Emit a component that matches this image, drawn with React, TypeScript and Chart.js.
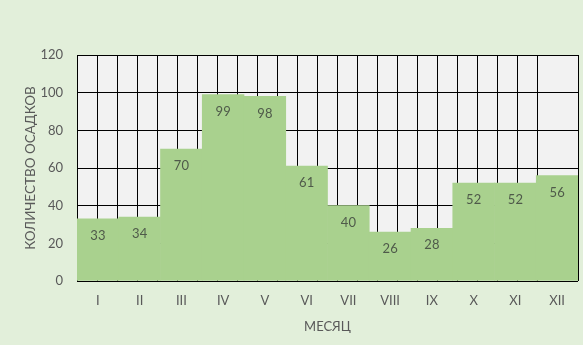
import React, { useEffect, useRef } from "react";
import { Chart, registerables } from "chart.js";

Chart.register(...registerables);

const months = ["I", "II", "III", "IV", "V", "VI", "VII", "VIII", "IX", "X", "XI", "XII"];
const precipitation = [33, 34, 70, 99, 98, 61, 40, 26, 28, 52, 52, 56];
const yTitle = "КОЛИЧЕСТВО ОСАДКОВ";
const xTitle = "МЕСЯЦ";

const FONT = "Lato, 'Open Sans', sans-serif";
const TEXT = "#595959";

const bgPlugin = {
  id: "bgPlugin",
  beforeDraw(chart: any) {
    const { ctx, chartArea, width, height } = chart;
    ctx.save();
    ctx.fillStyle = "#E2EFDA";
    ctx.fillRect(0, 0, width, height);
    ctx.fillStyle = "#F2F2F2";
    ctx.fillRect(chartArea.left, chartArea.top, chartArea.right - chartArea.left, chartArea.bottom - chartArea.top);
    ctx.restore();
  },
};

const labelPlugin = {
  id: "labelPlugin",
  afterDatasetsDraw(chart: any) {
    const { ctx } = chart;
    const meta = chart.getDatasetMeta(0);
    const data = chart.data.datasets[0].data;
    ctx.save();
    ctx.font = `13px ${FONT}`;
    ctx.fillStyle = "#4F5A4A";
    ctx.textAlign = "center";
    ctx.textBaseline = "middle";
    meta.data.forEach((el: any, i: number) => {
      ctx.fillText(String(data[i]), el.x, el.y + 17);
    });
    ctx.restore();
  },
};

export default function App() {
  const ref = useRef<HTMLCanvasElement>(null);
  useEffect(() => {
    document.body.style.margin = "0";
    const chart = new Chart(ref.current!, {
      type: "bar",
      data: {
        labels: months,
        datasets: [
          {
            data: precipitation,
            backgroundColor: "#A9D18E",
            borderWidth: 0,
            categoryPercentage: 1,
            barPercentage: 1,
            xAxisID: "x",
          },
        ],
      },
      options: {
        animation: false,
        responsive: false,
        maintainAspectRatio: false,
        layout: { padding: { top: 55, right: 5, left: 0, bottom: 0 } },
        plugins: { legend: { display: false }, tooltip: { enabled: false } },
        scales: {
          x: {
            position: "bottom",
            grid: { display: false, drawTicks: false },
            border: { display: false },
            ticks: { color: TEXT, font: { family: FONT, size: 13 }, padding: 12 },
            title: {
              display: true,
              text: xTitle,
              color: TEXT,
              font: { family: FONT, size: 13 },
              padding: { top: 8, bottom: 10 },
            },
            afterFit: (s: any) => {
              s.height = 64;
            },
          },
          x2: {
            type: "linear",
            position: "top",
            min: 0,
            max: 24,
            ticks: { display: false, stepSize: 1 },
            grid: {
              drawTicks: false,
              color: (c: any) => (c.tick && c.tick.value === 24 ? "rgba(0,0,0,0)" : "#000000"),
              lineWidth: 1,
            },
            border: { display: false },
            afterFit: (s: any) => {
              s.height = 0;
            },
          },
          y: {
            min: 0,
            max: 120,
            ticks: { stepSize: 20, color: TEXT, font: { family: FONT, size: 13 }, padding: 14 },
            grid: { color: "#000000", lineWidth: 1, drawTicks: false },
            border: { display: true, color: "#000000" },
            title: {
              display: true,
              text: yTitle,
              color: TEXT,
              font: { family: FONT, size: 13.5 },
              padding: { top: 23, bottom: 0 },
            },
            afterFit: (s: any) => {
              s.width = 77;
            },
          },
        },
      },
      plugins: [bgPlugin, labelPlugin],
    });
    return () => chart.destroy();
  }, []);
  return <canvas ref={ref} width={583} height={345} style={{ display: "block" }} />;
}
